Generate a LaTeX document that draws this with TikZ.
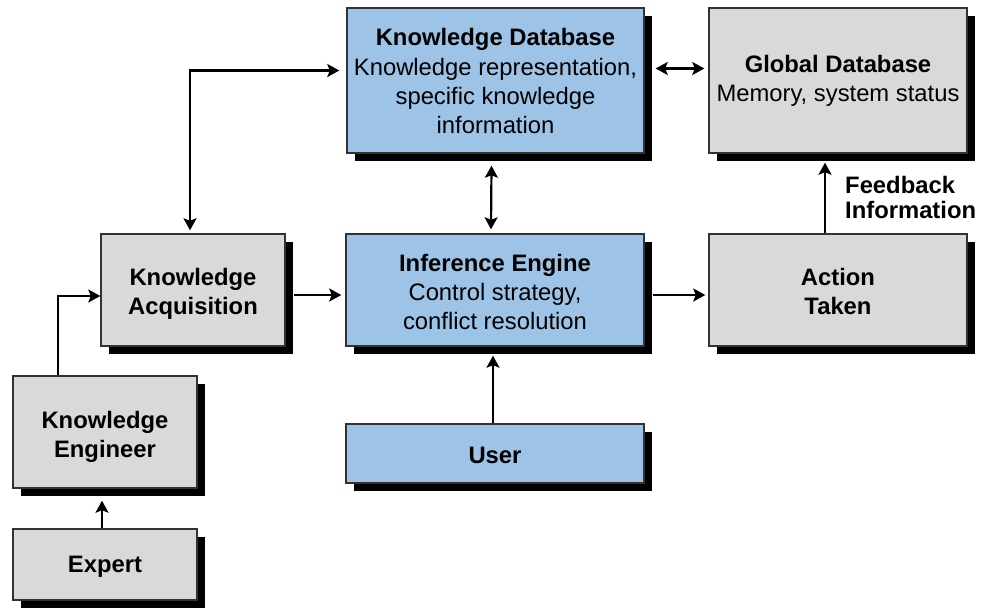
\documentclass[tikz,border=0pt]{standalone}
\usepackage{fontspec}
\setmainfont{Liberation Sans}
\usetikzlibrary{arrows.meta,shadows}
\definecolor{boxblue}{RGB}{157,195,230}
\definecolor{boxgray}{RGB}{217,217,217}
\definecolor{edgegray}{RGB}{50,50,50}
\newcommand{\lowerby}[2]{\raisebox{-#1}[\height][\depth]{\begin{tabular}{@{}c@{}}#2\end{tabular}}}
\tikzset{
  box/.style={draw=edgegray,line width=1.4pt,inner sep=0pt,
    font=\fontsize{23.8}{29.3}\selectfont,
    general shadow={fill=black,shadow xshift=8pt,shadow yshift=-8pt}},
  bluebox/.style={box,fill=boxblue},
  graybox/.style={box,fill=boxgray},
  arr/.style={line width=2.2pt,-{Stealth[length=12pt,width=13pt,inset=2.5pt]}},
  darr/.style={line width=2.2pt,{Stealth[length=12pt,width=13pt,inset=2.5pt]}-{Stealth[length=12pt,width=13pt,inset=2.5pt]}},
  lbl/.style={font=\fontsize{23.8}{25.5}\selectfont\bfseries,align=left,inner sep=0pt}
}
\begin{document}
\begin{tikzpicture}[x=1pt,y=-1pt]
\useasboundingbox (0,0) rectangle (983,611);
\node[bluebox,minimum width=297pt,minimum height=145pt] (kd) at (495.5,80.5)
  {\lowerby{3.5pt}{\textbf{Knowledge Database}\\Knowledge representation,\\specific knowledge\\information}};
\node[graybox,minimum width=258pt,minimum height=145pt] (gd) at (838,80.5)
  {\lowerby{0.5pt}{\textbf{Global Database}\\Memory, system status}};
\node[graybox,minimum width=184pt,minimum height=112pt] (ka) at (193,290)
  {\lowerby{4pt}{\textbf{Knowledge}\\\textbf{Acquisition}}};
\node[bluebox,minimum width=298pt,minimum height=112pt] (ie) at (495,290)
  {\lowerby{4.5pt}{\textbf{Inference Engine}\\Control strategy,\\conflict resolution}};
\node[graybox,minimum width=258pt,minimum height=112pt] (at) at (838,290)
  {\lowerby{4pt}{\textbf{Action}\\\textbf{Taken}}};
\node[graybox,minimum width=184pt,minimum height=112pt] (ke) at (105,432)
  {\lowerby{5pt}{\textbf{Knowledge}\\\textbf{Engineer}}};
\node[bluebox,minimum width=298pt,minimum height=59pt] (user) at (495,453.5)
  {\lowerby{4pt}{\textbf{User}}};
\node[graybox,minimum width=184pt,minimum height=71pt] (ex) at (105,564.5)
  {\lowerby{2pt}{\textbf{Expert}}};
\node[lbl,anchor=north west] (fb) at (845,176) {Feedback\\Information};
% connectors
\coordinate (kex) at (58,0);
\draw[arr] (ke.north -| kex) |- ([yshift=-6pt]ka.west);
\draw[arr] ([xshift=-3pt]ex.north) -- ([xshift=-3pt,yshift=-12pt]ke.south);
\coordinate (kax) at (190,0);
\draw[darr] ([yshift=3pt]ka.north -| kax) |- ([xshift=-7pt,yshift=10pt]kd.west);
\draw[darr] ([xshift=11pt,yshift=12pt]kd.east) -- ([xshift=-4pt,yshift=12pt]gd.west);
\draw[darr] ([xshift=-4pt,yshift=-12pt]kd.south) -- ([xshift=-4pt,yshift=4pt]ie.north);
\draw[arr] ([xshift=8pt,yshift=-5pt]ka.east) -- ([xshift=-4pt,yshift=-5pt]ie.west);
\draw[arr] ([xshift=8pt,yshift=-5pt]ie.east) -- ([xshift=-3pt,yshift=-5pt]at.west);
\draw[arr] ([xshift=-2pt]user.north) -- ([xshift=-2pt,yshift=-9pt]ie.south);
\coordinate (atx) at (825,0);
\draw[arr] (at.north -| atx) -- ([yshift=-9pt]gd.south -| atx);
\end{tikzpicture}
\end{document}
